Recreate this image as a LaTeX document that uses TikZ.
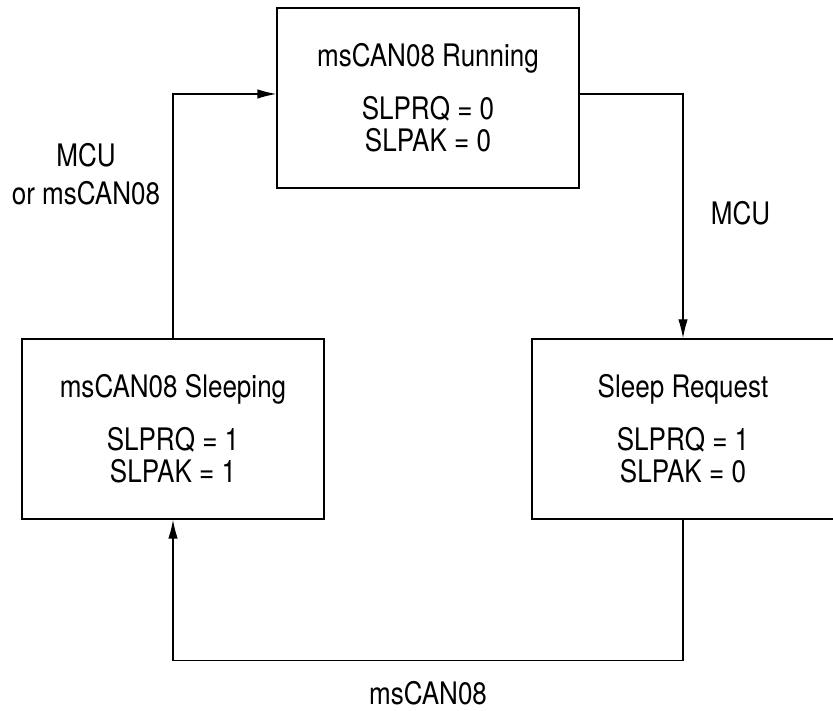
\documentclass[tikz,border=0pt]{standalone}
\usepackage{fontspec}
\setmainfont[FakeStretch=0.84]{TeX Gyre Heros}
\usetikzlibrary{arrows.meta}
\begin{document}
\begin{tikzpicture}[x=1pt,y=1pt,
  statebox/.style={draw, line width=1.3pt, minimum width=302pt, minimum height=180pt,
    inner sep=0pt, align=center, font=\fontsize{31}{32}\selectfont},
  lbl/.style={align=center, inner sep=0pt, anchor=base, font=\fontsize{31}{38}\selectfont},
  conn/.style={line width=1.3pt},
  arr/.style={conn, -{Latex[length=19pt,width=9.5pt]}}]
\useasboundingbox (0,0) rectangle (833,711);
\node[statebox] (run) at (428,613) {msCAN08 Running\\[21pt]SLPRQ = 0\\SLPAK = 0};
\node[statebox] (sleep) at (173,282) {msCAN08 Sleeping\\[21pt]SLPRQ = 1\\SLPAK = 1};
\node[statebox] (req) at (683,282) {Sleep Request\\[21pt]SLPRQ = 1\\SLPAK = 0};
\coordinate (bot) at (683,50.3);
\draw[arr] (sleep.north) |- ([yshift=4pt]run.west);
\draw[arr] ([yshift=4pt]run.east) -| (req.north);
\draw[arr] (req.south) -- (bot) -| (sleep.south);
\node[lbl] (l1) at (86,506) {MCU\\or msCAN08};
\node[lbl] (l2) at (740.5,486) {MCU};
\node[lbl] (l3) at (428,6) {msCAN08};
\end{tikzpicture}
\end{document}
